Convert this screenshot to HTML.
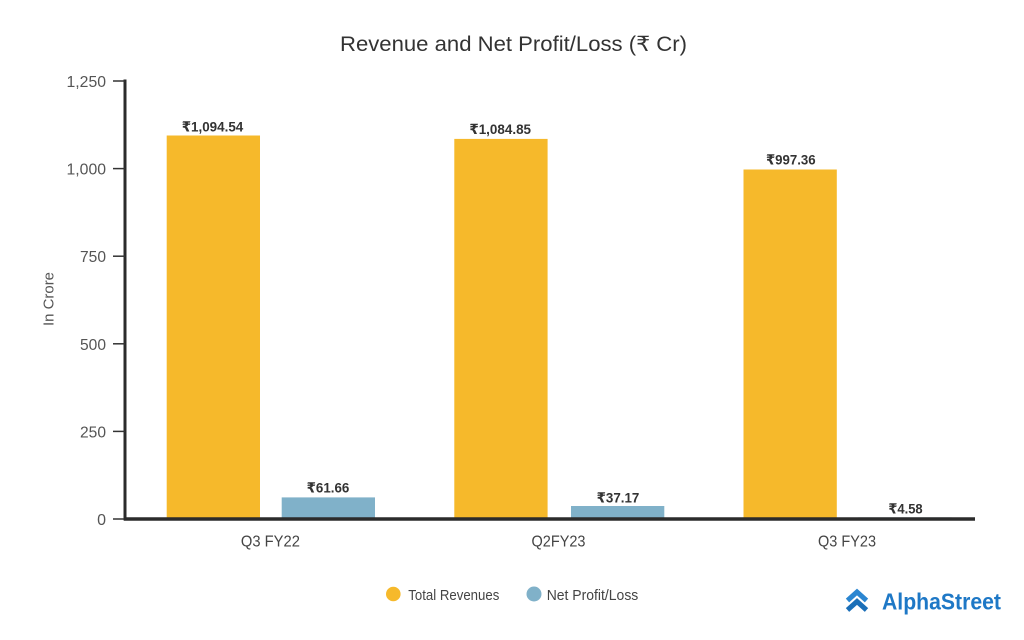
<!DOCTYPE html>
<html>
<head>
<meta charset="utf-8">
<style>
  html,body{margin:0;padding:0;background:#fff;}
  svg{display:block;}
  text{font-family:"Liberation Sans","DejaVu Sans",sans-serif;}
</style>
</head>
<body>
<svg width="1024" height="640" viewBox="0 0 1024 640" xmlns="http://www.w3.org/2000/svg">
  <rect width="1024" height="640" fill="#ffffff"/>

  <!-- Title -->
  <text x="340" y="51" font-size="21" fill="#333" textLength="347" lengthAdjust="spacingAndGlyphs">Revenue and Net Profit/Loss (₹ Cr)</text>

  <!-- Y axis label -->
  <text transform="translate(53.5,299) rotate(-90)" text-anchor="middle" font-size="15" fill="#555" textLength="54" lengthAdjust="spacingAndGlyphs">In Crore</text>

  <!-- Bars -->
  <rect x="166.7" y="135.5" width="93.3" height="383.5" fill="#F6B92B"/>
  <rect x="281.7" y="497.4" width="93.3" height="21.6" fill="#80B1C9"/>
  <rect x="454.3" y="138.9" width="93.3" height="380.1" fill="#F6B92B"/>
  <rect x="571" y="506" width="93.3" height="13" fill="#80B1C9"/>
  <rect x="743.5" y="169.5" width="93.3" height="349.5" fill="#F6B92B"/>
  <rect x="858.3" y="517.4" width="93.3" height="1.6" fill="#80B1C9"/>

  <!-- Y axis -->
  <line x1="125" y1="79.5" x2="125" y2="520.5" stroke="#2b2b2b" stroke-width="3"/>
  <g stroke="#333" stroke-width="1.5">
    <line x1="113" y1="81" x2="125" y2="81"/>
    <line x1="113" y1="168.6" x2="125" y2="168.6"/>
    <line x1="113" y1="256.2" x2="125" y2="256.2"/>
    <line x1="113" y1="343.8" x2="125" y2="343.8"/>
    <line x1="113" y1="431.4" x2="125" y2="431.4"/>
    <line x1="113" y1="519" x2="125" y2="519"/>
  </g>
  <g font-size="16" fill="#555" text-anchor="end">
    <text x="106" y="87" textLength="39.5" lengthAdjust="spacingAndGlyphs">1,250</text>
    <text x="106" y="174.6" textLength="39.5" lengthAdjust="spacingAndGlyphs">1,000</text>
    <text x="106" y="262.2" textLength="26" lengthAdjust="spacingAndGlyphs">750</text>
    <text x="106" y="349.8" textLength="26" lengthAdjust="spacingAndGlyphs">500</text>
    <text x="106" y="437.4" textLength="26" lengthAdjust="spacingAndGlyphs">250</text>
    <text x="106" y="525">0</text>
  </g>

  <!-- Baseline -->
  <line x1="124" y1="519" x2="975" y2="519" stroke="#2b2b2b" stroke-width="3.5"/>

  <!-- Value labels -->
  <g font-size="14" font-weight="bold" fill="#333" text-anchor="middle">
    <text x="212.5" y="131.5" textLength="61.6" lengthAdjust="spacingAndGlyphs">₹1,094.54</text>
    <text x="328" y="492.7" textLength="42.7" lengthAdjust="spacingAndGlyphs">₹61.66</text>
    <text x="500.2" y="134" textLength="61.7" lengthAdjust="spacingAndGlyphs">₹1,084.85</text>
    <text x="618" y="502.3" textLength="42.7" lengthAdjust="spacingAndGlyphs">₹37.17</text>
    <text x="790.8" y="164.3" textLength="49.7" lengthAdjust="spacingAndGlyphs">₹997.36</text>
    <text x="905.5" y="513.3" textLength="34.3" lengthAdjust="spacingAndGlyphs">₹4.58</text>
  </g>

  <!-- Category labels -->
  <g font-size="16" fill="#444" text-anchor="middle">
    <text x="270.4" y="546.7" textLength="59" lengthAdjust="spacingAndGlyphs">Q3 FY22</text>
    <text x="558.5" y="546.7" textLength="54" lengthAdjust="spacingAndGlyphs">Q2FY23</text>
    <text x="847" y="546.7" textLength="58" lengthAdjust="spacingAndGlyphs">Q3 FY23</text>
  </g>

  <!-- Legend -->
  <circle cx="393.3" cy="594" r="7.3" fill="#F6B92B"/>
  <text x="408.3" y="600" font-size="15" fill="#444" textLength="91" lengthAdjust="spacingAndGlyphs">Total Revenues</text>
  <circle cx="534" cy="594" r="7.5" fill="#80B1C9"/>
  <text x="546.7" y="600" font-size="15" fill="#444" textLength="91.6" lengthAdjust="spacingAndGlyphs">Net Profit/Loss</text>

  <!-- Logo -->
  <g fill="none" stroke-linejoin="miter" stroke-linecap="butt">
    <polyline points="847.5,600.5 857,592 866.5,600.5" stroke="#2B86D1" stroke-width="5"/>
    <polyline points="847.5,610 857,601.5 866.5,610" stroke="#1B6FB8" stroke-width="5"/>
  </g>
  <text x="882" y="609.5" font-size="23" font-weight="bold" fill="#1E78C6" textLength="119" lengthAdjust="spacingAndGlyphs">AlphaStreet</text>
</svg>
</body>
</html>
